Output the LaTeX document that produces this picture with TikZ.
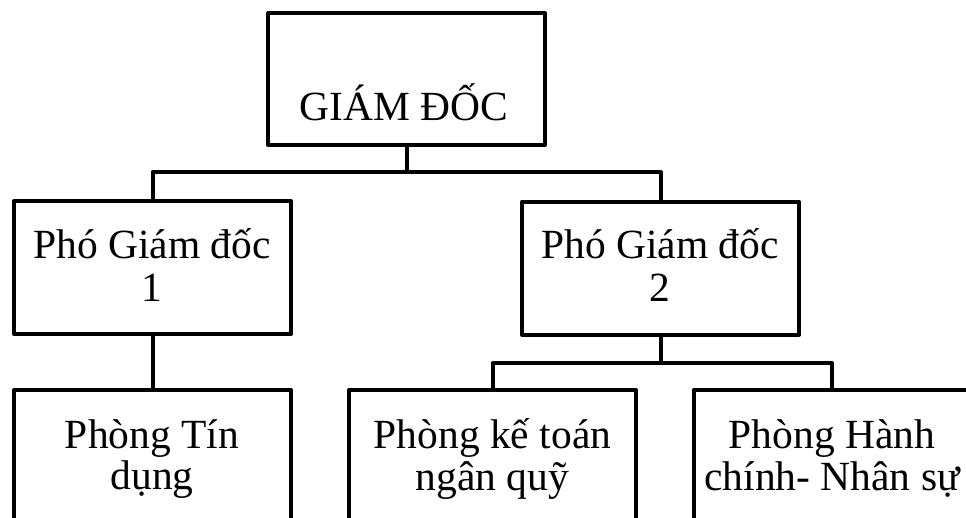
\documentclass[tikz,border=0pt]{standalone}
\usepackage{fontspec}
\setmainfont{Liberation Serif}
\begin{document}
\begin{tikzpicture}[x=1pt,y=-1pt,line join=round,
  box/.style={draw,line width=4pt,rectangle,inner sep=0pt,
              minimum width=277pt,minimum height=133pt},
  txt/.style={anchor=base,inner sep=0pt,font=\fontsize{41.5}{42}\selectfont},
  wire/.style={line width=4pt}]
\clip (0,0) rectangle (966,517);
\useasboundingbox (0,0) rectangle (966,517);

% boxes of the organisation chart
\node[box,minimum height=132pt] (g) at (406.5,79) {};
\node[box] (p1) at (152.5,267.5) {};
\node[box] (p2) at (660.5,268) {};
\node[box] (b1) at (152.5,456.5) {};
\node[box,minimum width=287pt] (b2) at (492.5,456.5) {};
\node[box] (b3) at (832,456.5) {};

% labels, one node per line
\node[txt] (gt) at (404,120) {GIÁM ĐỐC};
\node[txt] (p1a) at (152,258) {Phó Giám đốc};
\node[txt] (p1b) at (152,301) {1};
\node[txt] (p2a) at (660,258) {Phó Giám đốc};
\node[txt] (p2b) at (660,301) {2};
\node[txt] (b1a) at (152,448) {Phòng Tín};
\node[txt] (b1b) at (152,489) {dụng};
\node[txt] (b2a) at (492.5,448) {Phòng kế toán};
\node[txt] (b2b) at (492.5,490) {ngân quỹ};
\node[txt] (b3a) at (832,448) {Phòng Hành};
\node[txt] (b3b) at (832,490) {chính- Nhân sự};

% connectors
\coordinate (bus1) at (0,172);
\coordinate (bus2) at (0,363);
\draw[wire] (g.south) -- (g.south |- bus1);
\draw[wire] (p1.north) -- (p1.north |- bus1) -- (p2.north |- bus1) -- (p2.north);
\draw[wire] (p1.south) -- (b1.north);
\draw[wire] (p2.south) -- (p2.south |- bus2);
\draw[wire] (b2.north) -- (b2.north |- bus2) -- (b3.north |- bus2) -- (b3.north);
\end{tikzpicture}
\end{document}
